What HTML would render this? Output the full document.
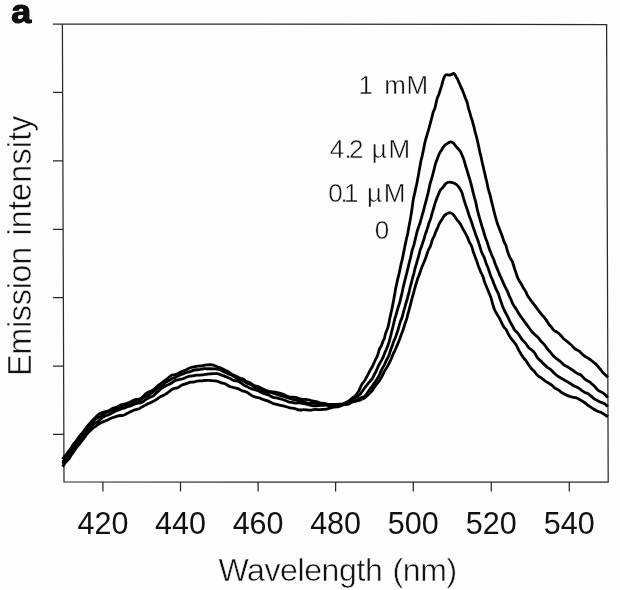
<!DOCTYPE html>
<html><head><meta charset="utf-8">
<style>
html,body{margin:0;padding:0;background:#fdfdfd;}
body{width:620px;height:590px;overflow:hidden;position:relative;font-family:"Liberation Sans",sans-serif;}
svg{position:absolute;left:0;top:0;display:block;filter:grayscale(1)}
text{font-family:"Liberation Sans",sans-serif;fill:#111}
</style></head><body>
<svg width="620" height="590" viewBox="0 0 620 590">
<rect width="620" height="590" fill="#fdfdfd"/>
<!-- frame -->
<g stroke="#2a2a2a" stroke-width="1.25" fill="none">
<path d="M52.8,24 L62.4,24 L606.6,24.5 L608.2,482.1 L64,482 L62.4,24" stroke-linejoin="miter"/>
<!-- y ticks -->
<path d="M53,92.4H62.6 M53,160.8H62.9 M53,229.3H63.1 M53,297.6H63.3 M53,366H63.6 M53,434.3H63.8"/>
<!-- x ticks -->
<path d="M102.9,482V491.6 M180.5,482V491.6 M258.1,482V491.6 M335.6,482V491.6 M413.3,482V491.6 M491.3,482V491.6 M569.3,482V491.6"/>
</g>
<!-- curves -->
<g stroke="#000" stroke-width="2.8" fill="none" stroke-linejoin="round" stroke-linecap="butt">
<path d="M62.60,466.76 C62.82,466.41 63.45,465.32 63.92,464.64 C64.39,463.95 64.90,463.29 65.43,462.65 C65.97,462.02 66.58,461.44 67.14,460.83 C67.71,460.21 68.32,459.64 68.82,458.98 C69.32,458.32 69.72,457.58 70.16,456.87 C70.59,456.16 70.98,455.41 71.43,454.72 C71.89,454.02 72.43,453.38 72.91,452.70 C73.40,452.03 73.88,451.34 74.35,450.66 C74.83,449.97 75.25,449.25 75.76,448.59 C76.26,447.93 76.85,447.33 77.38,446.69 C77.91,446.05 78.44,445.41 78.94,444.74 C79.44,444.08 79.88,443.36 80.37,442.70 C80.87,442.03 81.40,441.39 81.94,440.74 C82.47,440.10 83.05,439.50 83.57,438.85 C84.08,438.19 84.54,437.50 85.01,436.81 C85.48,436.12 85.89,435.39 86.39,434.72 C86.88,434.05 87.42,433.42 87.98,432.80 C88.53,432.18 89.12,431.58 89.72,431.00 C90.32,430.42 90.96,429.89 91.58,429.34 C92.21,428.79 92.82,428.22 93.48,427.72 C94.15,427.21 94.88,426.81 95.57,426.33 C96.25,425.85 96.89,425.32 97.57,424.84 C98.25,424.36 98.91,423.85 99.63,423.43 C100.35,423.01 101.11,422.66 101.87,422.31 C102.62,421.96 103.40,421.66 104.17,421.34 C104.94,421.02 105.72,420.73 106.48,420.40 C107.25,420.07 108.00,419.71 108.76,419.36 C109.51,419.01 110.25,418.61 111.02,418.29 C111.79,417.98 112.58,417.73 113.37,417.46 C114.16,417.20 114.96,416.96 115.75,416.70 C116.55,416.44 117.32,416.09 118.12,415.89 C118.92,415.69 119.76,415.58 120.58,415.51 C121.41,415.44 122.28,415.63 123.08,415.45 C123.87,415.28 124.62,414.85 125.36,414.47 C126.10,414.09 126.77,413.59 127.51,413.19 C128.24,412.80 129.01,412.47 129.76,412.11 C130.51,411.75 131.26,411.38 132.01,411.02 C132.76,410.66 133.49,410.22 134.27,409.95 C135.05,409.68 135.89,409.58 136.69,409.39 C137.50,409.21 138.36,409.16 139.11,408.83 C139.85,408.50 140.46,407.85 141.16,407.41 C141.87,406.98 142.60,406.58 143.34,406.20 C144.08,405.83 144.87,405.53 145.60,405.14 C146.34,404.75 147.00,404.22 147.74,403.84 C148.48,403.46 149.28,403.20 150.04,402.86 C150.80,402.52 151.56,402.18 152.30,401.81 C153.04,401.43 153.76,401.01 154.49,400.61 C155.22,400.21 155.99,399.86 156.68,399.40 C157.37,398.93 157.95,398.32 158.63,397.83 C159.31,397.35 160.01,396.90 160.74,396.51 C161.47,396.12 162.27,395.84 163.02,395.49 C163.77,395.13 164.53,394.77 165.25,394.36 C165.98,393.95 166.68,393.49 167.36,393.02 C168.04,392.54 168.70,392.03 169.35,391.51 C170.01,390.99 170.60,390.39 171.28,389.92 C171.96,389.45 172.67,388.97 173.44,388.68 C174.21,388.39 175.09,388.41 175.89,388.19 C176.69,387.97 177.50,387.75 178.24,387.38 C178.97,387.01 179.60,386.42 180.31,385.99 C181.02,385.55 181.73,385.10 182.49,384.78 C183.26,384.47 184.10,384.34 184.90,384.10 C185.69,383.85 186.48,383.59 187.26,383.31 C188.05,383.02 188.79,382.59 189.59,382.40 C190.39,382.21 191.25,382.25 192.07,382.15 C192.90,382.06 193.74,382.02 194.55,381.84 C195.36,381.66 196.12,381.26 196.93,381.09 C197.74,380.93 198.58,380.88 199.41,380.86 C200.23,380.83 201.07,381.00 201.90,380.94 C202.72,380.88 203.54,380.61 204.36,380.51 C205.19,380.41 206.02,380.36 206.85,380.35 C207.68,380.34 208.52,380.40 209.35,380.46 C210.18,380.51 211.01,380.62 211.84,380.69 C212.67,380.76 213.50,380.83 214.33,380.88 C215.16,380.94 216.02,380.86 216.82,381.03 C217.62,381.20 218.37,381.62 219.15,381.92 C219.92,382.22 220.67,382.60 221.47,382.84 C222.26,383.07 223.14,383.06 223.92,383.31 C224.71,383.57 225.45,383.97 226.18,384.36 C226.91,384.76 227.57,385.29 228.30,385.69 C229.03,386.09 229.77,386.49 230.55,386.77 C231.33,387.06 232.16,387.20 232.96,387.40 C233.77,387.60 234.59,387.78 235.40,387.97 C236.21,388.17 237.04,388.31 237.82,388.59 C238.60,388.86 239.34,389.26 240.08,389.63 C240.83,390.01 241.50,390.56 242.27,390.85 C243.04,391.14 243.91,391.14 244.70,391.38 C245.49,391.62 246.28,391.91 247.00,392.31 C247.73,392.70 248.37,393.27 249.05,393.74 C249.73,394.22 250.39,394.74 251.10,395.18 C251.81,395.61 252.53,396.04 253.30,396.35 C254.06,396.67 254.88,396.87 255.69,397.08 C256.49,397.29 257.32,397.41 258.13,397.62 C258.93,397.84 259.74,398.06 260.51,398.36 C261.29,398.65 262.01,399.11 262.78,399.40 C263.56,399.70 264.37,399.89 265.17,400.14 C265.97,400.38 266.79,400.56 267.56,400.86 C268.34,401.15 269.08,401.55 269.83,401.91 C270.58,402.27 271.31,402.69 272.07,403.01 C272.84,403.34 273.63,403.61 274.42,403.85 C275.22,404.09 276.05,404.24 276.85,404.44 C277.66,404.64 278.46,404.88 279.27,405.06 C280.09,405.24 280.92,405.35 281.73,405.52 C282.55,405.69 283.36,405.86 284.17,406.08 C284.97,406.30 285.75,406.60 286.54,406.85 C287.34,407.10 288.13,407.37 288.94,407.57 C289.75,407.77 290.57,407.91 291.39,408.03 C292.22,408.15 293.07,408.12 293.88,408.27 C294.70,408.42 295.49,408.69 296.28,408.96 C297.06,409.23 297.79,409.72 298.59,409.90 C299.39,410.07 300.24,410.03 301.07,409.99 C301.89,409.96 302.72,409.71 303.55,409.67 C304.37,409.64 305.21,409.71 306.04,409.79 C306.87,409.86 307.69,410.07 308.52,410.12 C309.35,410.17 310.19,410.18 311.01,410.09 C311.83,410.00 312.63,409.68 313.45,409.56 C314.27,409.44 315.11,409.35 315.93,409.37 C316.76,409.39 317.59,409.64 318.42,409.67 C319.25,409.70 320.08,409.58 320.91,409.54 C321.74,409.50 322.58,409.48 323.40,409.42 C324.23,409.36 325.07,409.33 325.89,409.18 C326.70,409.03 327.49,408.74 328.30,408.53 C329.11,408.31 329.92,408.12 330.72,407.91 C331.53,407.70 332.32,407.41 333.13,407.25 C333.95,407.09 334.78,407.03 335.61,406.95 C336.44,406.87 337.29,406.93 338.10,406.76 C338.91,406.59 339.71,406.29 340.45,405.92 C341.19,405.56 341.86,405.04 342.55,404.57 C343.24,404.10 343.87,403.54 344.58,403.12 C345.29,402.69 346.08,402.39 346.82,402.01 C347.56,401.63 348.34,401.31 349.02,400.84 C349.70,400.38 350.28,399.75 350.92,399.22 C351.55,398.68 352.18,398.13 352.84,397.63 C353.50,397.12 354.28,396.75 354.89,396.20 C355.51,395.65 356.03,394.98 356.55,394.33 C357.06,393.68 357.54,392.99 357.99,392.29 C358.44,391.59 358.86,390.87 359.24,390.13 C359.61,389.39 359.90,388.60 360.23,387.83 C360.55,387.07 360.81,386.27 361.19,385.53 C361.56,384.78 361.99,384.06 362.47,383.39 C362.94,382.71 363.57,382.13 364.05,381.45 C364.54,380.78 364.96,380.06 365.38,379.34 C365.80,378.62 366.18,377.87 366.58,377.14 C366.97,376.41 367.38,375.68 367.77,374.95 C368.17,374.21 368.55,373.48 368.93,372.73 C369.31,371.99 369.65,371.22 370.05,370.50 C370.45,369.77 370.91,369.07 371.34,368.35 C371.76,367.64 372.22,366.94 372.59,366.19 C372.96,365.45 373.25,364.66 373.57,363.90 C373.90,363.13 374.20,362.35 374.53,361.59 C374.87,360.83 375.23,360.07 375.61,359.33 C375.99,358.59 376.47,357.90 376.82,357.15 C377.18,356.40 377.47,355.61 377.74,354.83 C378.01,354.04 378.21,353.22 378.44,352.42 C378.67,351.62 378.84,350.80 379.12,350.02 C379.41,349.24 379.77,348.49 380.15,347.75 C380.53,347.01 381.05,346.35 381.40,345.60 C381.75,344.85 381.97,344.03 382.26,343.25 C382.56,342.47 382.83,341.68 383.16,340.92 C383.49,340.16 383.95,339.44 384.24,338.67 C384.53,337.89 384.71,337.07 384.92,336.26 C385.13,335.45 385.27,334.63 385.50,333.83 C385.73,333.03 386.03,332.25 386.32,331.47 C386.61,330.69 386.97,329.94 387.25,329.16 C387.54,328.37 387.80,327.58 388.04,326.78 C388.27,325.98 388.49,325.18 388.67,324.36 C388.86,323.55 388.99,322.73 389.14,321.91 C389.29,321.09 389.43,320.27 389.59,319.45 C389.74,318.63 389.91,317.81 390.08,317.00 C390.26,316.18 390.45,315.37 390.64,314.56 C390.82,313.75 391.00,312.93 391.18,312.12 C391.37,311.31 391.57,310.50 391.75,309.69 C391.94,308.88 392.13,308.06 392.30,307.25 C392.46,306.43 392.59,305.61 392.74,304.79 C392.89,303.97 393.06,303.15 393.22,302.33 C393.38,301.52 393.55,300.70 393.70,299.88 C393.85,299.06 393.98,298.24 394.12,297.42 C394.26,296.60 394.40,295.77 394.54,294.95 C394.69,294.13 394.84,293.31 394.99,292.49 C395.14,291.67 395.28,290.85 395.42,290.03 C395.57,289.21 395.69,288.39 395.86,287.57 C396.03,286.75 396.25,285.95 396.43,285.13 C396.61,284.32 396.76,283.50 396.94,282.69 C397.11,281.87 397.29,281.06 397.47,280.24 C397.65,279.43 397.83,278.62 398.03,277.81 C398.22,277.00 398.44,276.19 398.64,275.38 C398.84,274.58 399.06,273.77 399.24,272.96 C399.42,272.14 399.55,271.32 399.71,270.50 C399.88,269.69 400.05,268.87 400.22,268.06 C400.40,267.24 400.58,266.43 400.76,265.61 C400.94,264.80 401.11,263.98 401.31,263.17 C401.50,262.36 401.71,261.56 401.92,260.75 C402.12,259.94 402.33,259.13 402.51,258.32 C402.69,257.51 402.84,256.69 402.99,255.87 C403.15,255.05 403.29,254.23 403.45,253.41 C403.61,252.59 403.79,251.78 403.96,250.96 C404.12,250.15 404.29,249.33 404.45,248.51 C404.60,247.69 404.74,246.87 404.90,246.05 C405.06,245.24 405.23,244.42 405.41,243.61 C405.59,242.79 405.77,241.98 405.96,241.17 C406.14,240.35 406.31,239.54 406.50,238.73 C406.69,237.91 406.91,237.11 407.10,236.30 C407.29,235.49 407.48,234.67 407.64,233.86 C407.81,233.04 407.94,232.22 408.09,231.40 C408.24,230.58 408.39,229.76 408.53,228.94 C408.68,228.12 408.81,227.30 408.96,226.48 C409.11,225.66 409.26,224.84 409.42,224.02 C409.58,223.20 409.77,222.39 409.93,221.57 C410.09,220.75 410.25,219.93 410.39,219.11 C410.53,218.29 410.65,217.47 410.78,216.64 C410.91,215.82 411.03,215.00 411.16,214.17 C411.28,213.35 411.42,212.53 411.55,211.70 C411.68,210.88 411.81,210.06 411.93,209.23 C412.06,208.41 412.19,207.59 412.30,206.76 C412.42,205.94 412.53,205.11 412.64,204.28 C412.75,203.46 412.86,202.63 412.97,201.81 C413.09,200.98 413.21,200.16 413.36,199.34 C413.50,198.51 413.66,197.70 413.83,196.88 C414.01,196.07 414.22,195.26 414.41,194.45 C414.60,193.64 414.81,192.83 414.98,192.02 C415.16,191.20 415.30,190.38 415.47,189.56 C415.65,188.75 415.84,187.94 416.03,187.13 C416.22,186.32 416.45,185.51 416.62,184.70 C416.80,183.89 416.93,183.06 417.08,182.24 C417.22,181.42 417.34,180.60 417.50,179.78 C417.65,178.96 417.85,178.15 418.02,177.33 C418.18,176.51 418.33,175.69 418.47,174.87 C418.62,174.05 418.75,173.23 418.89,172.41 C419.02,171.59 419.15,170.76 419.29,169.94 C419.44,169.12 419.60,168.30 419.75,167.48 C419.91,166.67 420.09,165.85 420.24,165.03 C420.39,164.21 420.51,163.39 420.65,162.57 C420.80,161.75 420.91,160.92 421.10,160.11 C421.29,159.30 421.58,158.51 421.78,157.70 C421.99,156.90 422.17,156.08 422.34,155.27 C422.51,154.45 422.63,153.63 422.80,152.81 C422.97,151.99 423.16,151.18 423.34,150.37 C423.52,149.55 423.70,148.74 423.87,147.93 C424.03,147.11 424.17,146.29 424.32,145.47 C424.48,144.65 424.63,143.83 424.81,143.01 C424.99,142.20 425.20,141.40 425.42,140.59 C425.63,139.79 425.87,138.99 426.09,138.18 C426.32,137.38 426.55,136.58 426.78,135.78 C427.01,134.98 427.23,134.18 427.47,133.38 C427.71,132.58 427.96,131.79 428.20,130.99 C428.44,130.19 428.67,129.39 428.90,128.59 C429.12,127.78 429.35,126.98 429.56,126.18 C429.78,125.37 429.99,124.56 430.20,123.76 C430.41,122.95 430.61,122.14 430.82,121.34 C431.03,120.53 431.25,119.73 431.47,118.92 C431.68,118.12 431.92,117.32 432.12,116.51 C432.32,115.70 432.46,114.87 432.66,114.07 C432.87,113.26 433.05,112.44 433.34,111.66 C433.63,110.89 434.10,110.18 434.41,109.40 C434.71,108.63 434.97,107.83 435.19,107.03 C435.42,106.23 435.58,105.41 435.76,104.60 C435.94,103.79 436.10,102.97 436.28,102.15 C436.46,101.34 436.63,100.52 436.86,99.72 C437.08,98.92 437.33,98.12 437.62,97.34 C437.91,96.56 438.31,95.82 438.60,95.04 C438.90,94.27 439.15,93.47 439.41,92.68 C439.67,91.89 439.91,91.09 440.17,90.30 C440.43,89.50 440.70,88.72 440.95,87.92 C441.21,87.13 441.46,86.34 441.70,85.54 C441.93,84.74 442.14,83.93 442.35,83.12 C442.56,82.32 442.74,81.50 442.97,80.70 C443.21,79.90 443.47,79.11 443.77,78.33 C444.07,77.56 444.28,76.65 444.77,76.04 C445.25,75.44 445.94,74.84 446.66,74.70 C447.39,74.55 448.31,75.21 449.11,75.18 C449.91,75.15 450.69,74.81 451.45,74.52 C452.20,74.23 453.00,73.34 453.63,73.45 C454.27,73.57 454.80,74.54 455.27,75.19 C455.73,75.85 456.02,76.68 456.43,77.40 C456.85,78.12 457.37,78.78 457.75,79.52 C458.12,80.26 458.35,81.07 458.68,81.84 C459.02,82.60 459.40,83.34 459.74,84.10 C460.07,84.87 460.36,85.65 460.69,86.41 C461.02,87.18 461.38,87.93 461.72,88.69 C462.06,89.45 462.40,90.21 462.72,90.98 C463.04,91.75 463.34,92.53 463.64,93.31 C463.94,94.09 464.23,94.86 464.52,95.65 C464.81,96.43 465.07,97.22 465.36,98.00 C465.66,98.78 466.00,99.54 466.31,100.31 C466.62,101.09 466.96,101.85 467.20,102.64 C467.45,103.44 467.60,104.26 467.78,105.08 C467.96,105.89 468.10,106.71 468.29,107.52 C468.48,108.33 468.69,109.14 468.93,109.94 C469.18,110.73 469.51,111.50 469.75,112.30 C469.99,113.10 470.16,113.91 470.37,114.72 C470.58,115.53 470.76,116.35 471.01,117.14 C471.27,117.93 471.64,118.68 471.91,119.47 C472.17,120.26 472.39,121.06 472.61,121.87 C472.82,122.67 472.98,123.49 473.20,124.30 C473.42,125.10 473.69,125.89 473.91,126.69 C474.13,127.50 474.31,128.31 474.49,129.12 C474.68,129.94 474.82,130.76 475.02,131.57 C475.21,132.38 475.45,133.18 475.68,133.98 C475.90,134.78 476.17,135.57 476.39,136.38 C476.61,137.18 476.79,137.99 476.98,138.81 C477.17,139.62 477.35,140.43 477.53,141.24 C477.72,142.06 477.90,142.87 478.08,143.68 C478.27,144.49 478.47,145.30 478.64,146.12 C478.81,146.93 478.96,147.75 479.12,148.57 C479.28,149.39 479.43,150.21 479.60,151.02 C479.78,151.84 479.98,152.65 480.18,153.46 C480.38,154.26 480.63,155.06 480.82,155.87 C481.02,156.68 481.19,157.50 481.36,158.31 C481.53,159.13 481.68,159.95 481.85,160.77 C482.01,161.58 482.18,162.40 482.37,163.21 C482.56,164.02 482.78,164.83 482.97,165.64 C483.16,166.45 483.32,167.27 483.50,168.08 C483.68,168.89 483.86,169.71 484.05,170.52 C484.25,171.33 484.50,172.13 484.69,172.94 C484.88,173.75 485.03,174.57 485.21,175.38 C485.39,176.20 485.57,177.01 485.77,177.82 C485.96,178.63 486.20,179.43 486.39,180.24 C486.59,181.05 486.77,181.86 486.95,182.68 C487.12,183.49 487.27,184.31 487.44,185.13 C487.61,185.94 487.78,186.76 487.97,187.57 C488.16,188.38 488.36,189.19 488.57,190.00 C488.77,190.80 488.98,191.61 489.22,192.41 C489.46,193.21 489.79,193.98 490.02,194.78 C490.25,195.58 490.42,196.40 490.61,197.21 C490.79,198.02 490.95,198.84 491.13,199.65 C491.32,200.47 491.51,201.28 491.71,202.08 C491.91,202.89 492.14,203.69 492.35,204.50 C492.56,205.31 492.77,206.12 492.96,206.93 C493.15,207.74 493.31,208.55 493.51,209.36 C493.70,210.17 493.92,210.98 494.13,211.79 C494.34,212.59 494.55,213.40 494.76,214.21 C494.96,215.01 495.16,215.82 495.38,216.63 C495.60,217.43 495.84,218.23 496.07,219.03 C496.29,219.83 496.50,220.64 496.74,221.44 C496.97,222.24 497.18,223.05 497.46,223.83 C497.74,224.62 498.10,225.37 498.41,226.15 C498.71,226.92 498.98,227.71 499.27,228.49 C499.55,229.27 499.82,230.06 500.13,230.84 C500.43,231.62 500.76,232.38 501.07,233.15 C501.38,233.93 501.70,234.70 501.99,235.48 C502.27,236.26 502.52,237.06 502.78,237.85 C503.03,238.65 503.25,239.45 503.52,240.24 C503.79,241.03 504.07,241.82 504.42,242.57 C504.77,243.32 505.28,244.00 505.62,244.76 C505.95,245.52 506.18,246.33 506.42,247.13 C506.66,247.92 506.83,248.74 507.05,249.55 C507.26,250.35 507.48,251.16 507.73,251.95 C507.98,252.75 508.23,253.54 508.53,254.32 C508.83,255.09 509.18,255.85 509.53,256.61 C509.88,257.37 510.23,258.13 510.64,258.85 C511.05,259.57 511.61,260.22 511.99,260.95 C512.36,261.69 512.64,262.48 512.92,263.27 C513.19,264.05 513.40,264.86 513.64,265.66 C513.89,266.46 514.12,267.26 514.37,268.05 C514.62,268.85 514.88,269.64 515.14,270.43 C515.41,271.22 515.70,272.00 515.97,272.79 C516.24,273.58 516.49,274.37 516.76,275.16 C517.03,275.95 517.25,276.76 517.57,277.53 C517.88,278.30 518.25,279.05 518.65,279.78 C519.04,280.51 519.50,281.21 519.94,281.92 C520.38,282.63 520.86,283.31 521.28,284.03 C521.70,284.75 522.07,285.50 522.47,286.23 C522.87,286.96 523.27,287.69 523.70,288.40 C524.13,289.11 524.65,289.78 525.07,290.49 C525.49,291.21 525.89,291.95 526.24,292.70 C526.60,293.45 526.84,294.26 527.23,295.00 C527.61,295.73 528.08,296.42 528.55,297.11 C529.01,297.80 529.54,298.45 530.02,299.13 C530.49,299.81 530.92,300.53 531.42,301.20 C531.91,301.87 532.46,302.50 532.98,303.15 C533.51,303.80 534.05,304.43 534.56,305.09 C535.07,305.75 535.55,306.43 536.03,307.11 C536.51,307.79 536.95,308.50 537.44,309.17 C537.93,309.85 538.45,310.50 538.97,311.15 C539.49,311.80 540.02,312.44 540.54,313.09 C541.07,313.74 541.56,314.41 542.10,315.04 C542.65,315.67 543.25,316.25 543.80,316.88 C544.35,317.51 544.88,318.15 545.38,318.82 C545.88,319.48 546.36,320.17 546.81,320.87 C547.26,321.57 547.64,322.31 548.10,323.01 C548.55,323.71 549.02,324.40 549.54,325.05 C550.06,325.70 550.68,326.27 551.21,326.91 C551.73,327.56 552.16,328.28 552.69,328.92 C553.22,329.56 553.72,330.26 554.38,330.75 C555.03,331.24 555.91,331.42 556.62,331.85 C557.33,332.27 558.01,332.76 558.64,333.30 C559.27,333.84 559.83,334.47 560.40,335.08 C560.96,335.69 561.50,336.33 562.05,336.96 C562.60,337.58 563.11,338.25 563.70,338.83 C564.30,339.41 564.95,339.93 565.61,340.44 C566.27,340.95 566.98,341.39 567.64,341.90 C568.29,342.41 568.93,342.95 569.56,343.50 C570.19,344.04 570.81,344.60 571.40,345.19 C571.98,345.79 572.47,346.47 573.05,347.07 C573.63,347.66 574.21,348.28 574.89,348.75 C575.56,349.23 576.37,349.51 577.09,349.93 C577.81,350.34 578.55,350.74 579.21,351.23 C579.88,351.73 580.47,352.33 581.07,352.91 C581.68,353.48 582.23,354.11 582.84,354.67 C583.46,355.23 584.08,355.80 584.77,356.26 C585.46,356.72 586.24,357.03 586.97,357.44 C587.69,357.86 588.42,358.26 589.11,358.73 C589.80,359.19 590.43,359.74 591.08,360.26 C591.74,360.77 592.39,361.30 593.04,361.82 C593.69,362.33 594.38,362.81 595.00,363.36 C595.63,363.91 596.22,364.50 596.79,365.10 C597.37,365.71 597.89,366.36 598.44,366.99 C598.98,367.62 599.53,368.25 600.05,368.90 C600.57,369.55 601.04,370.24 601.55,370.90 C602.07,371.55 602.57,372.22 603.14,372.82 C603.71,373.42 604.39,373.93 605.00,374.50 C605.60,375.07 606.33,375.73 606.80,376.23 C607.26,376.72 607.63,377.26 607.80,377.47"/>
<path d="M62.60,463.97 C62.85,463.64 63.58,462.62 64.11,461.98 C64.65,461.35 65.29,460.80 65.82,460.16 C66.34,459.51 66.82,458.82 67.27,458.12 C67.72,457.42 68.12,456.69 68.52,455.96 C68.91,455.22 69.22,454.45 69.62,453.71 C70.02,452.98 70.39,452.22 70.90,451.57 C71.41,450.92 72.09,450.41 72.67,449.81 C73.26,449.22 73.83,448.62 74.40,448.00 C74.96,447.39 75.51,446.76 76.06,446.14 C76.61,445.51 77.17,444.89 77.71,444.26 C78.25,443.62 78.79,442.99 79.30,442.33 C79.81,441.67 80.29,440.99 80.77,440.31 C81.25,439.63 81.70,438.92 82.19,438.25 C82.68,437.57 83.20,436.92 83.70,436.26 C84.21,435.60 84.75,434.96 85.23,434.28 C85.71,433.60 86.10,432.86 86.58,432.18 C87.06,431.50 87.56,430.83 88.09,430.19 C88.62,429.54 89.18,428.93 89.73,428.31 C90.28,427.68 90.84,427.06 91.40,426.44 C91.95,425.82 92.45,425.13 93.06,424.57 C93.67,424.01 94.35,423.52 95.05,423.09 C95.76,422.65 96.59,422.41 97.28,421.96 C97.97,421.50 98.55,420.88 99.19,420.35 C99.83,419.82 100.47,419.29 101.12,418.77 C101.77,418.24 102.41,417.69 103.09,417.22 C103.77,416.74 104.45,416.24 105.20,415.90 C105.95,415.57 106.82,415.48 107.59,415.19 C108.37,414.90 109.13,414.53 109.88,414.17 C110.63,413.81 111.37,413.43 112.10,413.03 C112.83,412.62 113.51,412.14 114.25,411.75 C114.99,411.37 115.75,411.04 116.52,410.72 C117.29,410.40 118.08,410.13 118.86,409.83 C119.63,409.52 120.39,409.18 121.18,408.91 C121.97,408.63 122.78,408.45 123.57,408.19 C124.36,407.93 125.14,407.62 125.92,407.33 C126.71,407.05 127.48,406.73 128.27,406.49 C129.07,406.25 129.91,406.16 130.70,405.90 C131.49,405.64 132.24,405.26 133.00,404.93 C133.76,404.59 134.50,404.18 135.28,403.91 C136.07,403.65 136.90,403.51 137.71,403.34 C138.53,403.18 139.38,403.13 140.18,402.91 C140.98,402.70 141.79,402.46 142.51,402.06 C143.23,401.67 143.82,401.03 144.49,400.53 C145.15,400.04 145.81,399.52 146.52,399.08 C147.22,398.65 147.97,398.27 148.72,397.90 C149.46,397.53 150.23,397.20 150.99,396.86 C151.74,396.51 152.59,396.31 153.26,395.85 C153.93,395.38 154.43,394.66 155.02,394.08 C155.61,393.49 156.18,392.88 156.81,392.34 C157.44,391.79 158.16,391.36 158.80,390.83 C159.44,390.29 160.00,389.67 160.64,389.14 C161.28,388.60 161.93,388.08 162.63,387.63 C163.32,387.17 164.08,386.81 164.81,386.41 C165.54,386.00 166.24,385.55 166.99,385.19 C167.74,384.83 168.55,384.58 169.30,384.22 C170.05,383.87 170.79,383.48 171.49,383.04 C172.20,382.60 172.81,382.01 173.52,381.57 C174.22,381.14 174.95,380.71 175.72,380.41 C176.49,380.11 177.33,379.96 178.14,379.77 C178.94,379.57 179.76,379.41 180.58,379.23 C181.39,379.06 182.23,378.98 183.02,378.73 C183.81,378.48 184.56,378.08 185.32,377.75 C186.08,377.41 186.80,376.97 187.58,376.70 C188.37,376.43 189.19,376.26 190.01,376.13 C190.83,375.99 191.68,376.02 192.50,375.90 C193.32,375.77 194.12,375.49 194.94,375.35 C195.76,375.21 196.59,375.13 197.42,375.08 C198.25,375.03 199.09,375.08 199.92,375.05 C200.75,375.02 201.59,374.98 202.41,374.88 C203.24,374.79 204.06,374.62 204.88,374.49 C205.71,374.37 206.53,374.22 207.35,374.12 C208.18,374.01 209.01,373.92 209.84,373.85 C210.67,373.78 211.50,373.75 212.33,373.71 C213.17,373.67 214.00,373.62 214.83,373.62 C215.67,373.62 216.51,373.57 217.33,373.69 C218.15,373.82 218.95,374.09 219.73,374.35 C220.52,374.62 221.27,374.99 222.05,375.29 C222.83,375.58 223.64,375.81 224.41,376.11 C225.19,376.41 225.96,376.74 226.72,377.07 C227.48,377.40 228.24,377.75 229.00,378.10 C229.75,378.45 230.51,378.81 231.25,379.18 C231.99,379.56 232.68,380.08 233.46,380.35 C234.23,380.63 235.09,380.67 235.89,380.85 C236.70,381.03 237.54,381.14 238.31,381.44 C239.08,381.74 239.79,382.21 240.49,382.65 C241.20,383.09 241.86,383.61 242.54,384.09 C243.22,384.56 243.87,385.11 244.59,385.52 C245.31,385.93 246.11,386.19 246.87,386.55 C247.62,386.90 248.36,387.29 249.10,387.67 C249.84,388.04 250.56,388.48 251.33,388.79 C252.10,389.09 252.92,389.29 253.72,389.51 C254.53,389.72 255.36,389.84 256.16,390.08 C256.95,390.33 257.73,390.64 258.49,390.97 C259.25,391.30 259.98,391.71 260.73,392.08 C261.48,392.45 262.21,392.85 262.98,393.17 C263.75,393.49 264.54,393.75 265.33,394.01 C266.13,394.26 266.95,394.41 267.74,394.69 C268.52,394.97 269.30,395.28 270.04,395.66 C270.77,396.04 271.42,396.63 272.16,396.97 C272.91,397.31 273.72,397.55 274.53,397.71 C275.33,397.87 276.20,397.77 277.01,397.92 C277.83,398.07 278.61,398.39 279.41,398.61 C280.22,398.83 281.03,399.01 281.83,399.24 C282.63,399.48 283.43,399.72 284.21,400.01 C284.99,400.29 285.75,400.65 286.53,400.95 C287.30,401.26 288.06,401.61 288.86,401.85 C289.65,402.09 290.48,402.22 291.30,402.38 C292.12,402.54 292.94,402.71 293.76,402.82 C294.58,402.94 295.41,403.06 296.24,403.07 C297.07,403.08 297.91,402.87 298.73,402.87 C299.56,402.87 300.40,402.91 301.21,403.06 C302.02,403.20 302.80,403.58 303.61,403.75 C304.43,403.91 305.27,403.91 306.09,404.04 C306.91,404.17 307.74,404.31 308.54,404.53 C309.34,404.76 310.08,405.18 310.88,405.40 C311.68,405.62 312.51,405.76 313.34,405.83 C314.16,405.90 315.00,405.87 315.84,405.84 C316.67,405.81 317.50,405.73 318.33,405.65 C319.16,405.57 319.98,405.43 320.81,405.37 C321.64,405.31 322.48,405.31 323.31,405.28 C324.14,405.25 324.98,405.15 325.81,405.20 C326.63,405.25 327.46,405.40 328.27,405.57 C329.09,405.73 329.88,406.12 330.70,406.18 C331.51,406.23 332.34,406.04 333.16,405.93 C333.98,405.81 334.79,405.49 335.61,405.46 C336.44,405.43 337.27,405.69 338.09,405.74 C338.92,405.78 339.77,405.86 340.59,405.73 C341.40,405.61 342.21,405.32 342.96,405.00 C343.72,404.67 344.40,404.15 345.14,403.76 C345.88,403.38 346.61,402.96 347.39,402.70 C348.18,402.44 349.08,402.50 349.84,402.21 C350.61,401.92 351.31,401.44 351.98,400.96 C352.65,400.47 353.22,399.84 353.86,399.31 C354.49,398.77 355.14,398.25 355.81,397.74 C356.47,397.24 357.20,396.82 357.85,396.30 C358.50,395.79 359.15,395.25 359.72,394.65 C360.29,394.05 360.77,393.36 361.27,392.69 C361.78,392.03 362.26,391.35 362.75,390.67 C363.23,390.00 363.71,389.31 364.19,388.63 C364.67,387.95 365.12,387.24 365.61,386.58 C366.11,385.91 366.65,385.27 367.18,384.63 C367.71,383.99 368.26,383.36 368.80,382.72 C369.34,382.09 369.90,381.47 370.44,380.84 C370.98,380.20 371.57,379.60 372.04,378.92 C372.51,378.24 372.89,377.49 373.27,376.75 C373.65,376.01 373.96,375.23 374.34,374.49 C374.71,373.74 375.13,373.02 375.51,372.28 C375.90,371.54 376.28,370.80 376.63,370.05 C376.98,369.29 377.28,368.51 377.61,367.75 C377.94,366.98 378.25,366.20 378.61,365.46 C378.98,364.71 379.39,363.98 379.80,363.26 C380.21,362.53 380.66,361.83 381.08,361.11 C381.49,360.38 381.89,359.65 382.27,358.91 C382.65,358.17 383.01,357.42 383.34,356.65 C383.67,355.89 383.93,355.09 384.23,354.32 C384.53,353.54 384.82,352.76 385.14,351.99 C385.47,351.22 385.84,350.47 386.17,349.71 C386.50,348.95 386.81,348.17 387.13,347.40 C387.45,346.63 387.80,345.87 388.09,345.09 C388.38,344.31 388.65,343.52 388.88,342.72 C389.12,341.93 389.30,341.11 389.51,340.30 C389.71,339.50 389.91,338.69 390.13,337.88 C390.34,337.08 390.59,336.28 390.79,335.47 C391.00,334.66 391.15,333.84 391.34,333.03 C391.53,332.22 391.72,331.41 391.93,330.60 C392.14,329.80 392.40,329.00 392.60,328.20 C392.81,327.39 392.97,326.57 393.16,325.76 C393.34,324.95 393.52,324.13 393.72,323.32 C393.91,322.51 394.10,321.70 394.30,320.89 C394.50,320.08 394.67,319.26 394.90,318.46 C395.13,317.66 395.43,316.89 395.68,316.09 C395.93,315.30 396.17,314.50 396.40,313.70 C396.63,312.90 396.83,312.09 397.05,311.28 C397.26,310.48 397.49,309.68 397.71,308.87 C397.93,308.07 398.12,307.26 398.38,306.46 C398.63,305.67 398.97,304.91 399.24,304.12 C399.50,303.33 399.76,302.54 399.98,301.73 C400.19,300.93 400.34,300.10 400.52,299.29 C400.71,298.48 400.88,297.66 401.07,296.85 C401.27,296.04 401.49,295.24 401.69,294.43 C401.89,293.62 402.10,292.81 402.27,292.00 C402.44,291.18 402.57,290.36 402.72,289.54 C402.88,288.72 403.02,287.90 403.21,287.09 C403.40,286.28 403.65,285.48 403.85,284.67 C404.05,283.86 404.22,283.05 404.42,282.24 C404.62,281.43 404.84,280.63 405.05,279.82 C405.25,279.01 405.45,278.20 405.65,277.39 C405.85,276.58 406.06,275.78 406.26,274.97 C406.46,274.16 406.67,273.35 406.87,272.54 C407.07,271.73 407.25,270.92 407.45,270.11 C407.64,269.30 407.83,268.49 408.02,267.68 C408.22,266.87 408.42,266.06 408.62,265.25 C408.82,264.44 409.01,263.63 409.21,262.82 C409.41,262.01 409.63,261.21 409.84,260.40 C410.06,259.60 410.30,258.80 410.50,257.99 C410.69,257.18 410.84,256.36 411.01,255.54 C411.19,254.73 411.35,253.91 411.53,253.10 C411.71,252.28 411.87,251.46 412.08,250.66 C412.30,249.86 412.56,249.06 412.82,248.27 C413.08,247.48 413.40,246.71 413.64,245.91 C413.88,245.11 414.07,244.30 414.27,243.49 C414.47,242.68 414.64,241.87 414.83,241.06 C415.02,240.25 415.23,239.44 415.43,238.63 C415.62,237.82 415.81,237.01 415.99,236.19 C416.18,235.38 416.36,234.57 416.55,233.76 C416.75,232.95 416.93,232.13 417.16,231.33 C417.40,230.53 417.70,229.76 417.97,228.97 C418.24,228.18 418.49,227.38 418.77,226.60 C419.05,225.81 419.37,225.04 419.63,224.25 C419.90,223.46 420.13,222.66 420.36,221.86 C420.59,221.06 420.78,220.25 421.00,219.45 C421.23,218.64 421.48,217.85 421.70,217.05 C421.92,216.24 422.10,215.43 422.33,214.63 C422.56,213.83 422.83,213.04 423.07,212.24 C423.30,211.44 423.52,210.63 423.72,209.83 C423.93,209.02 424.08,208.20 424.28,207.39 C424.48,206.58 424.69,205.78 424.92,204.97 C425.14,204.17 425.40,203.38 425.62,202.57 C425.85,201.77 426.06,200.97 426.26,200.16 C426.47,199.35 426.64,198.53 426.85,197.73 C427.06,196.92 427.29,196.12 427.50,195.31 C427.72,194.51 427.93,193.70 428.13,192.89 C428.32,192.08 428.50,191.27 428.68,190.45 C428.85,189.64 429.01,188.82 429.18,188.01 C429.34,187.19 429.50,186.37 429.68,185.56 C429.86,184.74 430.06,183.93 430.27,183.13 C430.49,182.33 430.75,181.53 431.00,180.74 C431.25,179.94 431.53,179.16 431.77,178.36 C432.00,177.56 432.21,176.75 432.42,175.94 C432.63,175.14 432.82,174.33 433.02,173.52 C433.23,172.71 433.44,171.90 433.65,171.10 C433.86,170.29 434.07,169.49 434.28,168.68 C434.48,167.87 434.67,167.06 434.87,166.25 C435.07,165.44 435.26,164.63 435.49,163.83 C435.72,163.03 435.97,162.23 436.26,161.45 C436.54,160.67 436.91,159.91 437.21,159.14 C437.51,158.36 437.77,157.57 438.06,156.79 C438.35,156.01 438.61,155.21 438.95,154.45 C439.30,153.70 439.69,152.96 440.11,152.24 C440.54,151.53 441.04,150.86 441.48,150.15 C441.93,149.44 442.31,148.70 442.76,148.00 C443.21,147.30 443.62,146.55 444.17,145.94 C444.72,145.33 445.41,144.83 446.07,144.33 C446.74,143.84 447.44,143.37 448.17,142.97 C448.90,142.57 449.66,142.00 450.43,141.94 C451.19,141.88 452.08,142.21 452.75,142.63 C453.42,143.05 453.91,143.83 454.45,144.45 C455.00,145.08 455.50,145.75 456.03,146.40 C456.55,147.04 457.06,147.71 457.62,148.32 C458.18,148.94 458.85,149.46 459.38,150.10 C459.91,150.74 460.38,151.43 460.78,152.15 C461.18,152.88 461.46,153.68 461.79,154.44 C462.11,155.21 462.44,155.98 462.75,156.75 C463.06,157.52 463.38,158.29 463.66,159.08 C463.93,159.86 464.18,160.66 464.41,161.46 C464.65,162.26 464.84,163.07 465.07,163.87 C465.29,164.68 465.51,165.48 465.76,166.28 C466.00,167.07 466.28,167.86 466.54,168.65 C466.79,169.45 467.03,170.25 467.27,171.04 C467.50,171.84 467.74,172.64 467.97,173.44 C468.21,174.24 468.44,175.04 468.67,175.84 C468.91,176.64 469.15,177.44 469.40,178.24 C469.64,179.03 469.91,179.82 470.15,180.62 C470.39,181.42 470.61,182.22 470.83,183.02 C471.04,183.83 471.24,184.64 471.44,185.45 C471.64,186.26 471.84,187.07 472.04,187.88 C472.23,188.69 472.42,189.50 472.61,190.31 C472.80,191.12 472.98,191.93 473.19,192.74 C473.39,193.55 473.62,194.35 473.83,195.16 C474.05,195.96 474.23,196.77 474.46,197.58 C474.68,198.38 474.94,199.17 475.16,199.98 C475.38,200.78 475.58,201.59 475.77,202.40 C475.96,203.21 476.13,204.03 476.31,204.84 C476.48,205.66 476.63,206.48 476.80,207.29 C476.98,208.11 477.15,208.92 477.34,209.73 C477.53,210.55 477.74,211.35 477.94,212.16 C478.15,212.97 478.37,213.77 478.58,214.58 C478.80,215.38 479.00,216.19 479.23,216.99 C479.45,217.79 479.71,218.59 479.95,219.39 C480.18,220.19 480.41,220.99 480.64,221.79 C480.86,222.59 481.07,223.40 481.31,224.20 C481.54,225.00 481.79,225.79 482.05,226.59 C482.30,227.38 482.59,228.16 482.84,228.96 C483.09,229.75 483.31,230.55 483.54,231.36 C483.77,232.16 483.98,232.96 484.22,233.76 C484.45,234.56 484.69,235.36 484.95,236.15 C485.21,236.95 485.46,237.74 485.75,238.52 C486.04,239.30 486.40,240.06 486.69,240.84 C486.98,241.62 487.24,242.41 487.49,243.21 C487.74,244.00 487.94,244.81 488.19,245.61 C488.44,246.40 488.72,247.18 489.00,247.97 C489.27,248.76 489.54,249.55 489.84,250.32 C490.13,251.10 490.46,251.87 490.77,252.65 C491.07,253.42 491.37,254.20 491.69,254.97 C492.01,255.74 492.35,256.50 492.70,257.26 C493.04,258.02 493.43,258.75 493.74,259.53 C494.05,260.30 494.28,261.10 494.54,261.89 C494.81,262.68 495.04,263.48 495.34,264.26 C495.63,265.04 495.98,265.80 496.30,266.57 C496.63,267.34 496.96,268.10 497.28,268.87 C497.59,269.64 497.90,270.42 498.21,271.19 C498.52,271.97 498.82,272.74 499.13,273.52 C499.44,274.29 499.73,275.07 500.08,275.83 C500.42,276.59 500.82,277.32 501.18,278.07 C501.53,278.83 501.89,279.58 502.22,280.34 C502.56,281.11 502.86,281.88 503.18,282.65 C503.50,283.42 503.81,284.20 504.16,284.95 C504.50,285.71 504.87,286.46 505.25,287.20 C505.64,287.94 506.07,288.65 506.46,289.39 C506.85,290.13 507.25,290.86 507.59,291.62 C507.93,292.38 508.18,293.18 508.47,293.96 C508.77,294.73 509.03,295.53 509.37,296.29 C509.71,297.05 510.17,297.75 510.53,298.50 C510.90,299.25 511.23,300.01 511.55,300.78 C511.86,301.55 512.08,302.37 512.43,303.12 C512.77,303.88 513.16,304.62 513.60,305.32 C514.04,306.03 514.59,306.67 515.06,307.35 C515.53,308.04 516.00,308.73 516.43,309.45 C516.86,310.16 517.25,310.90 517.66,311.62 C518.08,312.34 518.47,313.08 518.91,313.79 C519.35,314.49 519.82,315.19 520.31,315.86 C520.80,316.53 521.36,317.15 521.86,317.82 C522.36,318.49 522.82,319.18 523.29,319.87 C523.76,320.55 524.20,321.27 524.68,321.95 C525.16,322.63 525.67,323.29 526.18,323.95 C526.69,324.61 527.23,325.24 527.73,325.90 C528.24,326.57 528.72,327.25 529.19,327.93 C529.67,328.62 530.08,329.35 530.57,330.02 C531.06,330.69 531.56,331.36 532.12,331.97 C532.68,332.58 533.34,333.11 533.95,333.68 C534.55,334.25 535.14,334.84 535.76,335.40 C536.37,335.97 537.05,336.47 537.63,337.06 C538.22,337.65 538.74,338.30 539.26,338.95 C539.79,339.59 540.26,340.28 540.80,340.92 C541.34,341.56 541.91,342.16 542.48,342.77 C543.05,343.37 543.68,343.93 544.23,344.55 C544.78,345.18 545.28,345.84 545.78,346.51 C546.27,347.18 546.69,347.91 547.20,348.57 C547.70,349.24 548.24,349.87 548.79,350.49 C549.34,351.12 549.94,351.70 550.48,352.34 C551.02,352.97 551.48,353.67 552.02,354.30 C552.56,354.94 553.13,355.55 553.72,356.14 C554.31,356.72 554.92,357.29 555.56,357.82 C556.21,358.35 556.90,358.82 557.56,359.32 C558.22,359.83 558.88,360.35 559.53,360.87 C560.17,361.39 560.85,361.89 561.46,362.45 C562.07,363.02 562.57,363.71 563.19,364.26 C563.81,364.81 564.46,365.34 565.17,365.75 C565.89,366.17 566.74,366.35 567.46,366.75 C568.19,367.15 568.84,367.69 569.54,368.14 C570.24,368.60 570.95,369.03 571.64,369.49 C572.34,369.95 573.03,370.42 573.70,370.91 C574.37,371.41 574.98,371.99 575.66,372.46 C576.35,372.93 577.05,373.39 577.80,373.74 C578.55,374.10 579.44,374.18 580.15,374.58 C580.86,374.99 581.47,375.60 582.07,376.16 C582.67,376.73 583.18,377.41 583.77,377.99 C584.37,378.57 584.97,379.17 585.64,379.65 C586.31,380.13 587.10,380.45 587.81,380.88 C588.52,381.31 589.26,381.71 589.92,382.21 C590.58,382.71 591.14,383.34 591.77,383.88 C592.41,384.42 593.11,384.89 593.72,385.45 C594.32,386.02 594.87,386.65 595.42,387.28 C595.97,387.90 596.43,388.62 597.01,389.21 C597.59,389.80 598.21,390.38 598.91,390.82 C599.60,391.27 600.44,391.48 601.17,391.87 C601.91,392.26 602.65,392.67 603.31,393.16 C603.97,393.66 604.56,394.27 605.15,394.85 C605.75,395.43 606.43,396.21 606.87,396.66 C607.32,397.11 607.65,397.41 607.80,397.56"/>
<path d="M62.60,461.98 C62.87,461.67 63.73,460.76 64.23,460.10 C64.73,459.43 65.12,458.68 65.60,458.00 C66.08,457.32 66.64,456.70 67.13,456.03 C67.62,455.35 68.10,454.67 68.56,453.98 C69.01,453.28 69.39,452.53 69.85,451.84 C70.32,451.15 70.84,450.49 71.33,449.82 C71.82,449.15 72.32,448.48 72.81,447.81 C73.30,447.14 73.78,446.46 74.29,445.80 C74.80,445.14 75.35,444.50 75.87,443.86 C76.39,443.21 76.92,442.56 77.44,441.91 C77.96,441.26 78.51,440.63 78.98,439.95 C79.46,439.27 79.84,438.52 80.31,437.83 C80.78,437.14 81.27,436.47 81.80,435.82 C82.32,435.18 82.93,434.60 83.45,433.95 C83.98,433.31 84.45,432.61 84.95,431.95 C85.46,431.29 85.97,430.64 86.50,429.99 C87.02,429.34 87.54,428.68 88.08,428.05 C88.63,427.42 89.22,426.84 89.76,426.20 C90.31,425.57 90.84,424.94 91.34,424.26 C91.83,423.59 92.22,422.85 92.71,422.18 C93.20,421.50 93.70,420.83 94.28,420.24 C94.86,419.64 95.50,419.08 96.18,418.62 C96.87,418.16 97.66,417.85 98.40,417.47 C99.14,417.10 99.93,416.79 100.63,416.36 C101.34,415.93 101.97,415.36 102.64,414.88 C103.32,414.39 103.98,413.87 104.69,413.44 C105.40,413.02 106.16,412.65 106.91,412.30 C107.67,411.95 108.46,411.67 109.23,411.35 C109.99,411.03 110.74,410.66 111.53,410.38 C112.32,410.11 113.14,409.95 113.94,409.72 C114.74,409.49 115.55,409.30 116.33,409.01 C117.11,408.73 117.86,408.35 118.62,408.01 C119.38,407.67 120.13,407.29 120.90,406.98 C121.67,406.67 122.46,406.40 123.26,406.17 C124.06,405.93 124.89,405.82 125.69,405.59 C126.49,405.36 127.28,405.07 128.06,404.78 C128.84,404.50 129.60,404.13 130.39,403.88 C131.18,403.62 132.01,403.48 132.81,403.24 C133.60,403.01 134.40,402.75 135.19,402.48 C135.97,402.21 136.78,401.97 137.54,401.64 C138.30,401.31 139.06,400.95 139.76,400.51 C140.46,400.07 141.07,399.47 141.75,398.99 C142.43,398.51 143.12,398.04 143.84,397.63 C144.56,397.21 145.34,396.90 146.07,396.50 C146.80,396.11 147.51,395.66 148.22,395.23 C148.93,394.80 149.66,394.38 150.34,393.90 C151.02,393.42 151.64,392.86 152.30,392.36 C152.97,391.85 153.64,391.37 154.31,390.86 C154.97,390.36 155.63,389.85 156.29,389.35 C156.96,388.84 157.61,388.31 158.29,387.84 C158.98,387.37 159.70,386.96 160.41,386.52 C161.12,386.08 161.88,385.72 162.54,385.22 C163.20,384.72 163.75,384.07 164.37,383.52 C164.99,382.96 165.59,382.37 166.28,381.91 C166.96,381.45 167.75,381.13 168.48,380.74 C169.22,380.34 169.94,379.93 170.67,379.53 C171.40,379.13 172.12,378.71 172.87,378.35 C173.63,378.00 174.43,377.76 175.19,377.41 C175.94,377.06 176.65,376.61 177.41,376.26 C178.17,375.92 178.96,375.66 179.73,375.33 C180.49,375.00 181.24,374.62 182.00,374.29 C182.76,373.96 183.54,373.65 184.31,373.36 C185.09,373.06 185.88,372.79 186.67,372.53 C187.47,372.27 188.26,372.04 189.06,371.79 C189.86,371.55 190.67,371.36 191.45,371.07 C192.23,370.79 192.95,370.31 193.75,370.09 C194.54,369.87 195.38,369.81 196.21,369.75 C197.04,369.69 197.88,369.82 198.71,369.73 C199.53,369.65 200.34,369.39 201.15,369.23 C201.97,369.07 202.78,368.83 203.60,368.75 C204.43,368.66 205.27,368.73 206.10,368.73 C206.93,368.74 207.77,368.77 208.60,368.77 C209.43,368.77 210.27,368.74 211.10,368.74 C211.93,368.75 212.77,368.76 213.60,368.79 C214.43,368.81 215.27,368.80 216.09,368.91 C216.92,369.02 217.73,369.23 218.53,369.46 C219.33,369.70 220.11,370.00 220.88,370.32 C221.64,370.64 222.40,371.01 223.14,371.39 C223.88,371.76 224.59,372.21 225.33,372.59 C226.07,372.96 226.83,373.32 227.60,373.63 C228.37,373.94 229.19,374.14 229.96,374.44 C230.74,374.74 231.52,375.04 232.26,375.42 C233.00,375.80 233.70,376.26 234.41,376.70 C235.11,377.15 235.76,377.69 236.47,378.11 C237.19,378.53 237.94,378.91 238.70,379.23 C239.47,379.55 240.29,379.73 241.07,380.02 C241.86,380.31 242.65,380.57 243.39,380.94 C244.13,381.32 244.78,381.87 245.50,382.28 C246.22,382.69 246.98,383.06 247.73,383.40 C248.49,383.75 249.30,383.99 250.05,384.35 C250.80,384.71 251.53,385.11 252.23,385.56 C252.92,386.02 253.55,386.58 254.23,387.06 C254.91,387.55 255.56,388.09 256.29,388.47 C257.03,388.84 257.86,389.03 258.64,389.32 C259.42,389.61 260.20,389.90 260.97,390.21 C261.74,390.53 262.48,390.93 263.27,391.20 C264.05,391.47 264.87,391.65 265.68,391.83 C266.50,392.01 267.32,392.16 268.14,392.27 C268.97,392.38 269.82,392.35 270.63,392.49 C271.45,392.62 272.26,392.83 273.05,393.09 C273.84,393.34 274.59,393.74 275.38,394.00 C276.17,394.26 276.99,394.43 277.79,394.65 C278.59,394.88 279.39,395.12 280.19,395.36 C280.99,395.60 281.79,395.84 282.58,396.10 C283.37,396.35 284.15,396.65 284.94,396.91 C285.73,397.17 286.53,397.40 287.33,397.64 C288.13,397.88 288.94,398.08 289.73,398.36 C290.51,398.63 291.25,399.03 292.04,399.30 C292.83,399.57 293.63,399.83 294.44,399.99 C295.25,400.15 296.10,400.16 296.92,400.25 C297.75,400.34 298.58,400.43 299.41,400.52 C300.24,400.60 301.09,400.58 301.90,400.75 C302.71,400.93 303.50,401.22 304.25,401.55 C305.01,401.89 305.68,402.44 306.44,402.76 C307.20,403.09 308.00,403.42 308.81,403.50 C309.62,403.58 310.46,403.31 311.29,403.24 C312.12,403.18 312.95,403.05 313.77,403.13 C314.59,403.21 315.38,403.57 316.20,403.73 C317.01,403.89 317.84,403.99 318.67,404.08 C319.50,404.18 320.33,404.23 321.16,404.30 C321.99,404.37 322.82,404.43 323.65,404.50 C324.48,404.56 325.31,404.63 326.14,404.70 C326.97,404.77 327.81,404.80 328.63,404.92 C329.46,405.04 330.26,405.29 331.08,405.44 C331.89,405.60 332.72,405.87 333.53,405.85 C334.35,405.83 335.15,405.47 335.96,405.31 C336.78,405.15 337.60,405.03 338.43,404.90 C339.25,404.77 340.07,404.65 340.90,404.54 C341.72,404.43 342.55,404.22 343.37,404.22 C344.20,404.23 345.03,404.56 345.85,404.55 C346.67,404.54 347.53,404.48 348.29,404.19 C349.04,403.90 349.66,403.25 350.36,402.81 C351.07,402.37 351.74,401.84 352.51,401.54 C353.27,401.25 354.16,401.27 354.95,401.05 C355.75,400.82 356.56,400.58 357.29,400.20 C358.03,399.82 358.65,399.22 359.35,398.78 C360.05,398.34 360.75,397.87 361.50,397.53 C362.26,397.20 363.17,397.16 363.88,396.76 C364.59,396.37 365.21,395.77 365.76,395.16 C366.32,394.55 366.73,393.80 367.19,393.11 C367.66,392.42 368.11,391.71 368.57,391.02 C369.04,390.33 369.50,389.64 370.00,388.97 C370.49,388.29 371.03,387.66 371.53,386.99 C372.03,386.32 372.51,385.65 372.99,384.97 C373.48,384.29 373.94,383.60 374.42,382.91 C374.89,382.23 375.39,381.56 375.85,380.86 C376.31,380.17 376.76,379.47 377.20,378.76 C377.64,378.06 378.08,377.34 378.49,376.62 C378.89,375.89 379.29,375.16 379.65,374.40 C380.00,373.65 380.30,372.87 380.61,372.10 C380.92,371.33 381.15,370.51 381.51,369.77 C381.88,369.02 382.36,368.34 382.80,367.63 C383.23,366.92 383.73,366.25 384.12,365.52 C384.51,364.79 384.79,363.99 385.12,363.23 C385.46,362.47 385.77,361.70 386.13,360.94 C386.49,360.19 386.88,359.45 387.26,358.71 C387.64,357.97 388.09,357.26 388.43,356.51 C388.78,355.75 389.05,354.96 389.32,354.17 C389.59,353.38 389.82,352.58 390.07,351.79 C390.33,350.99 390.57,350.19 390.86,349.41 C391.14,348.63 391.49,347.87 391.79,347.09 C392.09,346.32 392.39,345.54 392.65,344.75 C392.91,343.96 393.08,343.13 393.36,342.35 C393.63,341.57 393.99,340.81 394.32,340.05 C394.65,339.28 395.01,338.53 395.32,337.76 C395.62,336.99 395.88,336.19 396.15,335.40 C396.43,334.62 396.71,333.83 396.97,333.04 C397.24,332.25 397.51,331.47 397.76,330.67 C398.00,329.87 398.22,329.07 398.45,328.27 C398.67,327.46 398.90,326.66 399.13,325.86 C399.37,325.06 399.61,324.26 399.85,323.47 C400.10,322.67 400.32,321.86 400.60,321.08 C400.89,320.30 401.27,319.56 401.57,318.78 C401.86,318.00 402.13,317.21 402.37,316.41 C402.61,315.61 402.79,314.80 402.99,313.99 C403.19,313.18 403.37,312.37 403.58,311.56 C403.79,310.75 404.03,309.96 404.27,309.16 C404.50,308.36 404.79,307.57 405.01,306.77 C405.23,305.97 405.37,305.14 405.59,304.34 C405.81,303.54 406.06,302.74 406.32,301.95 C406.58,301.16 406.90,300.39 407.12,299.59 C407.35,298.79 407.48,297.96 407.68,297.15 C407.88,296.34 408.10,295.54 408.33,294.74 C408.56,293.94 408.83,293.15 409.04,292.34 C409.25,291.54 409.41,290.72 409.59,289.90 C409.77,289.09 409.94,288.27 410.14,287.46 C410.34,286.66 410.57,285.85 410.78,285.05 C410.99,284.24 411.22,283.44 411.42,282.63 C411.62,281.82 411.80,281.01 412.00,280.20 C412.20,279.39 412.38,278.58 412.61,277.77 C412.83,276.97 413.09,276.18 413.33,275.38 C413.56,274.58 413.81,273.79 414.01,272.98 C414.21,272.17 414.34,271.34 414.53,270.53 C414.71,269.72 414.89,268.90 415.11,268.10 C415.34,267.30 415.62,266.52 415.86,265.72 C416.10,264.92 416.31,264.11 416.54,263.31 C416.76,262.51 416.98,261.70 417.21,260.90 C417.44,260.10 417.67,259.30 417.91,258.50 C418.15,257.70 418.42,256.91 418.64,256.11 C418.87,255.31 419.06,254.50 419.25,253.69 C419.45,252.88 419.61,252.06 419.83,251.25 C420.05,250.45 420.28,249.65 420.57,248.87 C420.85,248.09 421.25,247.35 421.54,246.57 C421.84,245.79 422.07,244.99 422.32,244.19 C422.57,243.40 422.80,242.60 423.06,241.80 C423.32,241.01 423.62,240.23 423.87,239.44 C424.12,238.65 424.33,237.84 424.55,237.04 C424.78,236.23 424.95,235.41 425.20,234.62 C425.46,233.83 425.81,233.07 426.09,232.28 C426.36,231.50 426.61,230.70 426.87,229.91 C427.14,229.12 427.43,228.34 427.68,227.54 C427.93,226.75 428.13,225.94 428.36,225.14 C428.58,224.34 428.75,223.51 429.02,222.73 C429.29,221.94 429.68,221.20 429.98,220.42 C430.28,219.65 430.57,218.86 430.82,218.07 C431.07,217.28 431.28,216.47 431.49,215.66 C431.71,214.86 431.89,214.04 432.11,213.24 C432.33,212.44 432.56,211.64 432.81,210.84 C433.05,210.04 433.32,209.25 433.57,208.46 C433.81,207.66 434.04,206.86 434.28,206.06 C434.51,205.26 434.73,204.46 434.98,203.66 C435.23,202.87 435.50,202.08 435.77,201.29 C436.04,200.50 436.29,199.71 436.58,198.92 C436.87,198.14 437.19,197.37 437.51,196.60 C437.82,195.83 438.14,195.06 438.47,194.29 C438.80,193.53 439.12,192.76 439.48,192.01 C439.84,191.26 440.14,190.45 440.63,189.79 C441.11,189.13 441.84,188.66 442.39,188.04 C442.94,187.42 443.42,186.73 443.93,186.07 C444.43,185.41 444.86,184.66 445.44,184.08 C446.02,183.50 446.69,182.92 447.43,182.59 C448.16,182.27 449.05,182.13 449.86,182.13 C450.67,182.13 451.51,182.37 452.31,182.58 C453.12,182.79 453.93,183.04 454.67,183.40 C455.41,183.77 456.12,184.24 456.75,184.78 C457.38,185.31 457.94,185.95 458.45,186.60 C458.97,187.25 459.42,187.96 459.87,188.66 C460.31,189.36 460.74,190.08 461.12,190.82 C461.49,191.57 461.82,192.34 462.10,193.12 C462.39,193.90 462.59,194.71 462.81,195.51 C463.04,196.32 463.23,197.13 463.45,197.93 C463.67,198.74 463.90,199.54 464.15,200.33 C464.39,201.13 464.67,201.92 464.93,202.71 C465.19,203.50 465.44,204.29 465.70,205.09 C465.96,205.88 466.23,206.67 466.50,207.45 C466.77,208.24 467.07,209.02 467.34,209.81 C467.60,210.60 467.86,211.39 468.10,212.19 C468.34,212.99 468.52,213.81 468.78,214.60 C469.04,215.39 469.36,216.16 469.66,216.93 C469.96,217.71 470.28,218.48 470.57,219.26 C470.85,220.04 471.11,220.84 471.38,221.62 C471.65,222.41 471.95,223.19 472.20,223.98 C472.46,224.78 472.64,225.60 472.89,226.39 C473.14,227.18 473.43,227.96 473.72,228.75 C474.00,229.53 474.31,230.30 474.58,231.09 C474.85,231.88 475.07,232.69 475.34,233.47 C475.60,234.26 475.88,235.05 476.18,235.83 C476.47,236.61 476.80,237.38 477.10,238.15 C477.39,238.93 477.69,239.71 477.96,240.50 C478.23,241.29 478.47,242.09 478.72,242.88 C478.98,243.67 479.25,244.46 479.50,245.26 C479.75,246.05 479.98,246.85 480.22,247.65 C480.46,248.45 480.67,249.26 480.92,250.05 C481.17,250.84 481.43,251.64 481.75,252.41 C482.06,253.18 482.44,253.92 482.81,254.67 C483.17,255.42 483.59,256.14 483.93,256.90 C484.27,257.66 484.56,258.45 484.83,259.23 C485.10,260.02 485.31,260.83 485.57,261.62 C485.83,262.41 486.10,263.20 486.40,263.98 C486.70,264.76 487.07,265.50 487.39,266.28 C487.71,267.05 488.01,267.82 488.30,268.61 C488.58,269.39 488.86,270.18 489.11,270.97 C489.37,271.76 489.59,272.56 489.85,273.36 C490.10,274.15 490.34,274.95 490.65,275.72 C490.96,276.50 491.37,277.23 491.70,277.99 C492.03,278.76 492.34,279.53 492.63,280.31 C492.93,281.09 493.18,281.88 493.48,282.66 C493.78,283.44 494.10,284.21 494.41,284.98 C494.72,285.76 495.04,286.53 495.35,287.30 C495.66,288.07 495.92,288.87 496.27,289.62 C496.63,290.37 497.12,291.05 497.50,291.79 C497.88,292.53 498.24,293.28 498.53,294.06 C498.82,294.84 498.98,295.67 499.22,296.46 C499.46,297.26 499.69,298.06 499.96,298.85 C500.24,299.64 500.58,300.40 500.86,301.19 C501.14,301.97 501.37,302.77 501.63,303.56 C501.89,304.35 502.15,305.15 502.44,305.93 C502.72,306.71 503.02,307.49 503.35,308.26 C503.69,309.02 504.07,309.76 504.44,310.50 C504.82,311.25 505.21,311.99 505.60,312.72 C505.99,313.46 506.40,314.18 506.79,314.92 C507.18,315.65 507.57,316.39 507.93,317.14 C508.28,317.90 508.59,318.67 508.94,319.43 C509.29,320.18 509.64,320.94 510.02,321.68 C510.41,322.42 510.82,323.15 511.23,323.87 C511.65,324.59 512.11,325.29 512.51,326.02 C512.90,326.75 513.23,327.52 513.62,328.26 C514.01,329.00 514.31,329.81 514.83,330.44 C515.34,331.08 516.11,331.50 516.70,332.09 C517.28,332.67 517.81,333.32 518.32,333.98 C518.83,334.63 519.29,335.33 519.75,336.03 C520.22,336.72 520.65,337.43 521.11,338.12 C521.58,338.81 522.01,339.53 522.56,340.16 C523.10,340.79 523.79,341.28 524.36,341.89 C524.94,342.49 525.49,343.11 525.99,343.77 C526.49,344.44 526.89,345.18 527.37,345.86 C527.85,346.54 528.31,347.25 528.88,347.85 C529.46,348.44 530.18,348.89 530.83,349.41 C531.48,349.93 532.16,350.42 532.78,350.97 C533.40,351.53 534.03,352.08 534.54,352.74 C535.04,353.39 535.39,354.17 535.80,354.89 C536.20,355.62 536.51,356.41 536.97,357.10 C537.43,357.78 537.97,358.43 538.56,359.01 C539.14,359.60 539.88,360.04 540.48,360.61 C541.09,361.17 541.61,361.84 542.19,362.43 C542.78,363.02 543.40,363.58 543.99,364.16 C544.59,364.75 545.15,365.36 545.77,365.93 C546.38,366.49 546.99,367.07 547.67,367.54 C548.35,368.02 549.17,368.29 549.84,368.77 C550.52,369.25 551.12,369.83 551.72,370.42 C552.31,371.00 552.83,371.66 553.40,372.27 C553.97,372.87 554.52,373.50 555.13,374.06 C555.74,374.63 556.39,375.16 557.06,375.66 C557.73,376.15 558.42,376.63 559.13,377.06 C559.84,377.49 560.60,377.85 561.32,378.25 C562.05,378.65 562.79,379.05 563.50,379.47 C564.22,379.90 564.90,380.38 565.62,380.80 C566.34,381.22 567.09,381.58 567.82,382.00 C568.54,382.41 569.26,382.83 569.96,383.29 C570.65,383.74 571.30,384.28 572.01,384.71 C572.72,385.15 573.46,385.53 574.20,385.91 C574.94,386.30 575.70,386.64 576.45,387.01 C577.19,387.38 577.97,387.70 578.68,388.14 C579.38,388.58 580.01,389.13 580.67,389.64 C581.34,390.14 581.96,390.71 582.65,391.17 C583.34,391.63 584.08,392.03 584.83,392.39 C585.57,392.75 586.39,392.99 587.14,393.35 C587.89,393.70 588.65,394.06 589.33,394.53 C590.01,395.00 590.60,395.61 591.22,396.16 C591.84,396.72 592.42,397.32 593.07,397.85 C593.71,398.37 594.38,398.88 595.09,399.32 C595.79,399.76 596.56,400.09 597.30,400.48 C598.03,400.87 598.75,401.31 599.50,401.67 C600.25,402.02 601.04,402.30 601.81,402.62 C602.58,402.93 603.40,403.15 604.12,403.55 C604.84,403.95 605.52,404.56 606.13,405.03 C606.75,405.49 607.52,406.13 607.80,406.35"/>
<path d="M62.60,459.29 C62.83,458.94 63.47,457.87 63.96,457.19 C64.45,456.52 64.99,455.89 65.52,455.24 C66.05,454.60 66.60,453.98 67.12,453.33 C67.64,452.68 68.13,452.00 68.64,451.34 C69.14,450.67 69.67,450.03 70.15,449.35 C70.63,448.67 71.06,447.95 71.51,447.25 C71.95,446.54 72.34,445.80 72.81,445.11 C73.28,444.43 73.78,443.76 74.31,443.12 C74.84,442.48 75.49,441.93 76.00,441.28 C76.51,440.62 76.89,439.87 77.36,439.19 C77.84,438.50 78.34,437.83 78.84,437.17 C79.34,436.51 79.86,435.85 80.38,435.20 C80.90,434.55 81.44,433.92 81.98,433.28 C82.53,432.65 83.11,432.05 83.63,431.40 C84.15,430.75 84.63,430.07 85.11,429.39 C85.58,428.70 85.99,427.97 86.48,427.30 C86.96,426.62 87.48,425.96 88.03,425.34 C88.58,424.72 89.22,424.17 89.78,423.55 C90.33,422.93 90.84,422.27 91.37,421.63 C91.90,420.98 92.38,420.29 92.96,419.70 C93.54,419.11 94.25,418.64 94.86,418.08 C95.47,417.52 96.05,416.92 96.64,416.32 C97.22,415.73 97.73,415.05 98.38,414.53 C99.02,414.02 99.76,413.61 100.51,413.25 C101.25,412.88 102.06,412.64 102.85,412.36 C103.63,412.09 104.42,411.81 105.23,411.61 C106.03,411.40 106.89,411.36 107.68,411.12 C108.47,410.88 109.25,410.56 109.97,410.16 C110.69,409.76 111.28,409.10 112.00,408.71 C112.73,408.32 113.53,408.07 114.32,407.80 C115.10,407.53 115.94,407.39 116.71,407.08 C117.48,406.77 118.18,406.30 118.93,405.93 C119.67,405.56 120.40,405.13 121.18,404.85 C121.95,404.57 122.79,404.44 123.60,404.23 C124.40,404.03 125.23,403.89 126.02,403.64 C126.82,403.40 127.59,403.06 128.36,402.75 C129.13,402.43 129.90,402.11 130.65,401.75 C131.41,401.40 132.13,400.99 132.89,400.64 C133.64,400.29 134.39,399.88 135.18,399.66 C135.98,399.45 136.85,399.51 137.66,399.35 C138.47,399.18 139.30,398.99 140.05,398.66 C140.81,398.33 141.54,397.89 142.19,397.38 C142.85,396.88 143.40,396.24 143.98,395.64 C144.56,395.04 145.04,394.33 145.67,393.80 C146.30,393.26 147.00,392.79 147.74,392.42 C148.47,392.05 149.33,391.91 150.09,391.58 C150.85,391.25 151.62,390.90 152.32,390.46 C153.03,390.02 153.67,389.49 154.31,388.95 C154.95,388.42 155.53,387.81 156.15,387.26 C156.77,386.70 157.38,386.14 158.04,385.62 C158.69,385.10 159.39,384.65 160.06,384.15 C160.73,383.65 161.39,383.15 162.05,382.63 C162.70,382.12 163.32,381.55 163.97,381.04 C164.63,380.53 165.32,380.06 166.00,379.58 C166.68,379.09 167.39,378.66 168.04,378.14 C168.70,377.63 169.27,377.00 169.92,376.49 C170.57,375.98 171.21,375.35 171.96,375.06 C172.71,374.78 173.61,374.94 174.42,374.78 C175.23,374.63 176.05,374.43 176.81,374.12 C177.58,373.81 178.26,373.29 179.00,372.90 C179.74,372.52 180.49,372.17 181.26,371.84 C182.02,371.51 182.81,371.23 183.58,370.92 C184.36,370.62 185.15,370.35 185.91,370.00 C186.66,369.66 187.38,369.22 188.12,368.84 C188.86,368.46 189.59,368.04 190.36,367.74 C191.14,367.45 191.96,367.28 192.77,367.08 C193.58,366.88 194.39,366.69 195.21,366.54 C196.03,366.38 196.85,366.23 197.68,366.14 C198.50,366.06 199.34,366.08 200.17,366.00 C201.00,365.92 201.83,365.83 202.65,365.69 C203.47,365.55 204.27,365.30 205.10,365.17 C205.92,365.04 206.75,365.00 207.58,364.93 C208.41,364.86 209.25,364.74 210.08,364.74 C210.90,364.75 211.75,364.80 212.55,364.98 C213.35,365.17 214.11,365.57 214.89,365.86 C215.67,366.15 216.45,366.46 217.23,366.73 C218.02,367.00 218.84,367.18 219.61,367.50 C220.38,367.81 221.10,368.25 221.85,368.61 C222.60,368.97 223.37,369.29 224.12,369.65 C224.87,370.01 225.62,370.38 226.35,370.78 C227.09,371.17 227.81,371.59 228.52,372.03 C229.23,372.46 229.90,372.96 230.61,373.39 C231.32,373.83 232.04,374.25 232.78,374.63 C233.52,375.01 234.29,375.33 235.05,375.68 C235.81,376.03 236.57,376.37 237.32,376.72 C238.07,377.08 238.80,377.51 239.57,377.82 C240.33,378.14 241.17,378.31 241.93,378.62 C242.70,378.93 243.47,379.28 244.17,379.71 C244.88,380.14 245.47,380.78 246.17,381.21 C246.88,381.63 247.66,381.94 248.42,382.27 C249.18,382.60 250.02,382.78 250.74,383.18 C251.45,383.58 252.04,384.23 252.73,384.69 C253.42,385.15 254.11,385.64 254.88,385.93 C255.65,386.21 256.54,386.17 257.33,386.40 C258.13,386.63 258.90,386.97 259.66,387.30 C260.42,387.64 261.15,388.05 261.90,388.42 C262.64,388.79 263.37,389.20 264.13,389.54 C264.89,389.89 265.66,390.20 266.44,390.49 C267.22,390.77 268.02,391.06 268.82,391.26 C269.63,391.45 270.46,391.58 271.28,391.69 C272.11,391.79 272.95,391.77 273.77,391.88 C274.60,391.99 275.42,392.16 276.23,392.34 C277.04,392.52 277.84,392.75 278.65,392.96 C279.46,393.17 280.27,393.35 281.07,393.58 C281.87,393.81 282.68,394.03 283.45,394.35 C284.21,394.67 284.92,395.13 285.66,395.50 C286.41,395.87 287.14,396.31 287.92,396.57 C288.71,396.82 289.55,396.94 290.37,397.03 C291.20,397.13 292.04,397.08 292.87,397.12 C293.70,397.17 294.54,397.17 295.36,397.31 C296.17,397.46 296.97,397.73 297.76,398.00 C298.54,398.27 299.28,398.70 300.07,398.95 C300.86,399.19 301.69,399.38 302.51,399.46 C303.33,399.54 304.18,399.41 305.01,399.43 C305.84,399.44 306.68,399.43 307.50,399.55 C308.32,399.67 309.13,399.91 309.93,400.14 C310.73,400.37 311.49,400.73 312.30,400.91 C313.11,401.10 313.95,401.13 314.77,401.27 C315.59,401.42 316.42,401.54 317.21,401.78 C318.00,402.02 318.73,402.50 319.52,402.73 C320.32,402.97 321.14,403.10 321.97,403.21 C322.79,403.32 323.64,403.25 324.46,403.39 C325.28,403.52 326.06,403.85 326.88,404.01 C327.69,404.17 328.52,404.30 329.34,404.37 C330.17,404.43 331.01,404.41 331.84,404.40 C332.68,404.40 333.51,404.38 334.34,404.36 C335.18,404.34 336.01,404.34 336.84,404.31 C337.68,404.28 338.51,404.24 339.34,404.19 C340.17,404.15 341.00,404.09 341.84,404.04 C342.67,403.98 343.50,403.95 344.33,403.87 C345.16,403.78 345.99,403.68 346.81,403.55 C347.63,403.41 348.45,403.26 349.26,403.06 C350.07,402.87 350.87,402.64 351.66,402.37 C352.45,402.10 353.19,401.68 353.98,401.44 C354.77,401.20 355.60,401.08 356.42,400.93 C357.24,400.77 358.09,400.74 358.88,400.51 C359.67,400.28 360.41,399.86 361.18,399.53 C361.94,399.20 362.73,398.90 363.46,398.52 C364.20,398.13 364.93,397.71 365.57,397.20 C366.22,396.69 366.75,396.02 367.35,395.44 C367.94,394.85 368.53,394.26 369.12,393.68 C369.72,393.10 370.35,392.55 370.92,391.94 C371.49,391.34 372.04,390.71 372.55,390.05 C373.05,389.39 373.49,388.67 373.95,387.98 C374.41,387.28 374.83,386.56 375.31,385.88 C375.79,385.20 376.32,384.56 376.85,383.91 C377.37,383.26 377.95,382.66 378.45,381.99 C378.95,381.33 379.40,380.63 379.85,379.92 C380.30,379.22 380.74,378.51 381.15,377.79 C381.57,377.07 381.97,376.34 382.35,375.59 C382.72,374.85 383.07,374.09 383.42,373.34 C383.78,372.58 384.07,371.80 384.48,371.07 C384.88,370.35 385.39,369.68 385.85,368.99 C386.31,368.29 386.81,367.62 387.23,366.91 C387.66,366.19 388.02,365.44 388.40,364.70 C388.78,363.96 389.15,363.21 389.51,362.46 C389.87,361.71 390.21,360.95 390.56,360.19 C390.91,359.43 391.28,358.68 391.60,357.92 C391.92,357.15 392.19,356.36 392.49,355.58 C392.80,354.81 393.09,354.02 393.44,353.27 C393.79,352.52 394.24,351.80 394.61,351.06 C394.98,350.31 395.32,349.55 395.67,348.80 C396.01,348.04 396.34,347.27 396.66,346.50 C396.99,345.73 397.29,344.96 397.61,344.19 C397.93,343.42 398.25,342.65 398.57,341.88 C398.89,341.11 399.22,340.35 399.52,339.57 C399.81,338.79 400.07,338.00 400.35,337.21 C400.62,336.42 400.87,335.63 401.16,334.84 C401.44,334.06 401.77,333.29 402.06,332.51 C402.36,331.74 402.65,330.96 402.93,330.17 C403.21,329.38 403.48,328.60 403.74,327.80 C403.99,327.01 404.22,326.21 404.47,325.41 C404.71,324.62 404.93,323.81 405.21,323.02 C405.48,322.24 405.83,321.48 406.10,320.69 C406.37,319.90 406.60,319.10 406.82,318.30 C407.04,317.49 407.20,316.68 407.42,315.87 C407.63,315.06 407.86,314.26 408.08,313.46 C408.31,312.66 408.54,311.86 408.75,311.05 C408.97,310.25 409.16,309.44 409.37,308.63 C409.59,307.82 409.82,307.03 410.04,306.22 C410.25,305.41 410.44,304.60 410.65,303.80 C410.87,302.99 411.10,302.19 411.31,301.39 C411.53,300.58 411.73,299.77 411.93,298.96 C412.13,298.15 412.30,297.34 412.52,296.53 C412.74,295.73 413.01,294.94 413.24,294.14 C413.47,293.34 413.70,292.54 413.91,291.73 C414.12,290.93 414.30,290.11 414.51,289.30 C414.72,288.50 414.94,287.69 415.17,286.89 C415.40,286.09 415.65,285.30 415.89,284.50 C416.13,283.70 416.37,282.90 416.61,282.11 C416.86,281.31 417.08,280.51 417.34,279.72 C417.60,278.92 417.89,278.14 418.19,277.36 C418.49,276.59 418.84,275.83 419.14,275.05 C419.43,274.27 419.69,273.48 419.96,272.69 C420.23,271.90 420.49,271.11 420.76,270.32 C421.03,269.53 421.28,268.74 421.58,267.96 C421.87,267.18 422.20,266.41 422.52,265.64 C422.84,264.88 423.18,264.12 423.50,263.34 C423.82,262.57 424.11,261.79 424.42,261.02 C424.74,260.25 425.07,259.49 425.38,258.71 C425.68,257.93 425.98,257.16 426.25,256.37 C426.52,255.58 426.74,254.78 426.99,253.98 C427.24,253.19 427.47,252.38 427.75,251.60 C428.03,250.82 428.32,250.03 428.69,249.29 C429.06,248.54 429.59,247.87 429.95,247.13 C430.31,246.38 430.58,245.59 430.85,244.80 C431.11,244.01 431.30,243.19 431.53,242.39 C431.76,241.59 431.93,240.76 432.23,239.99 C432.53,239.22 432.96,238.50 433.32,237.76 C433.69,237.01 434.12,236.30 434.44,235.53 C434.75,234.77 434.93,233.94 435.22,233.16 C435.52,232.38 435.87,231.62 436.21,230.86 C436.55,230.11 436.94,229.37 437.27,228.60 C437.60,227.84 437.89,227.06 438.21,226.28 C438.53,225.51 438.81,224.73 439.18,223.98 C439.54,223.23 439.96,222.51 440.39,221.80 C440.83,221.09 441.33,220.42 441.78,219.72 C442.23,219.02 442.66,218.30 443.11,217.60 C443.56,216.90 443.95,216.14 444.51,215.53 C445.06,214.92 445.74,214.40 446.43,213.96 C447.13,213.52 447.89,213.03 448.67,212.86 C449.45,212.70 450.37,212.71 451.12,212.97 C451.86,213.22 452.55,213.83 453.14,214.40 C453.73,214.97 454.15,215.72 454.64,216.39 C455.12,217.07 455.57,217.77 456.06,218.45 C456.55,219.12 457.05,219.79 457.57,220.44 C458.08,221.10 458.65,221.71 459.16,222.37 C459.67,223.02 460.21,223.67 460.63,224.38 C461.05,225.09 461.32,225.90 461.69,226.64 C462.06,227.39 462.43,228.14 462.84,228.86 C463.24,229.59 463.71,230.29 464.12,231.01 C464.54,231.73 464.93,232.47 465.33,233.19 C465.74,233.92 466.17,234.64 466.55,235.38 C466.92,236.12 467.27,236.88 467.60,237.65 C467.93,238.41 468.19,239.20 468.51,239.98 C468.82,240.75 469.10,241.54 469.47,242.28 C469.85,243.02 470.36,243.69 470.75,244.43 C471.14,245.16 471.51,245.91 471.80,246.69 C472.08,247.47 472.25,248.29 472.48,249.09 C472.71,249.89 472.91,250.70 473.17,251.49 C473.43,252.29 473.75,253.06 474.04,253.84 C474.33,254.62 474.62,255.40 474.91,256.18 C475.20,256.96 475.49,257.74 475.78,258.53 C476.07,259.31 476.38,260.08 476.66,260.87 C476.93,261.65 477.16,262.46 477.42,263.25 C477.67,264.04 477.92,264.84 478.20,265.62 C478.49,266.40 478.82,267.17 479.12,267.95 C479.42,268.72 479.71,269.51 480.02,270.28 C480.34,271.05 480.64,271.83 480.99,272.58 C481.35,273.33 481.81,274.04 482.17,274.79 C482.53,275.53 482.89,276.29 483.17,277.07 C483.45,277.85 483.62,278.67 483.85,279.47 C484.08,280.28 484.27,281.09 484.53,281.88 C484.79,282.67 485.10,283.45 485.42,284.22 C485.73,284.99 486.10,285.74 486.42,286.50 C486.74,287.27 487.03,288.06 487.35,288.83 C487.66,289.60 488.00,290.36 488.32,291.13 C488.65,291.90 488.98,292.66 489.30,293.43 C489.62,294.20 489.96,294.96 490.26,295.74 C490.55,296.52 490.84,297.30 491.09,298.10 C491.33,298.89 491.52,299.71 491.73,300.51 C491.95,301.32 492.15,302.13 492.37,302.93 C492.59,303.73 492.83,304.53 493.07,305.33 C493.31,306.13 493.55,306.93 493.82,307.71 C494.09,308.50 494.36,309.29 494.69,310.05 C495.03,310.82 495.42,311.56 495.82,312.29 C496.22,313.01 496.67,313.72 497.11,314.43 C497.55,315.14 498.03,315.82 498.46,316.53 C498.89,317.25 499.30,317.97 499.68,318.71 C500.07,319.45 500.40,320.21 500.76,320.97 C501.12,321.72 501.47,322.47 501.84,323.22 C502.21,323.97 502.55,324.73 502.97,325.45 C503.39,326.17 503.83,326.88 504.33,327.54 C504.84,328.19 505.53,328.72 506.00,329.39 C506.47,330.07 506.77,330.87 507.15,331.61 C507.53,332.35 507.89,333.10 508.28,333.84 C508.67,334.58 509.07,335.31 509.50,336.02 C509.93,336.74 510.36,337.45 510.85,338.13 C511.33,338.80 511.90,339.42 512.42,340.07 C512.95,340.71 513.49,341.34 514.01,342.00 C514.52,342.66 515.04,343.31 515.50,344.00 C515.97,344.69 516.39,345.42 516.78,346.15 C517.18,346.88 517.51,347.65 517.88,348.39 C518.26,349.14 518.64,349.88 519.03,350.61 C519.43,351.34 519.85,352.07 520.28,352.78 C520.71,353.49 521.17,354.19 521.61,354.89 C522.06,355.60 522.46,356.33 522.93,357.02 C523.41,357.70 523.92,358.35 524.45,358.99 C524.99,359.63 525.62,360.19 526.12,360.85 C526.62,361.51 527.02,362.25 527.47,362.95 C527.93,363.65 528.37,364.36 528.83,365.05 C529.30,365.74 529.76,366.43 530.26,367.10 C530.76,367.77 531.28,368.42 531.83,369.04 C532.39,369.66 533.02,370.21 533.60,370.81 C534.17,371.41 534.75,372.02 535.29,372.65 C535.84,373.28 536.30,373.98 536.86,374.59 C537.43,375.20 538.02,375.80 538.68,376.29 C539.35,376.79 540.14,377.11 540.83,377.57 C541.52,378.04 542.16,378.57 542.82,379.09 C543.47,379.61 544.09,380.17 544.75,380.67 C545.42,381.16 546.11,381.63 546.82,382.08 C547.52,382.53 548.26,382.92 548.97,383.34 C549.69,383.77 550.44,384.15 551.11,384.64 C551.78,385.13 552.36,385.74 552.98,386.30 C553.59,386.85 554.14,387.52 554.81,387.99 C555.48,388.47 556.29,388.74 557.01,389.16 C557.73,389.57 558.45,389.99 559.12,390.48 C559.78,390.98 560.34,391.62 561.02,392.10 C561.70,392.58 562.46,392.94 563.18,393.36 C563.90,393.78 564.60,394.23 565.34,394.61 C566.09,394.98 566.86,395.30 567.63,395.60 C568.41,395.90 569.22,396.12 570.01,396.38 C570.80,396.65 571.57,397.00 572.37,397.20 C573.18,397.40 574.03,397.41 574.84,397.58 C575.65,397.74 576.49,397.87 577.25,398.18 C578.01,398.50 578.67,399.05 579.39,399.48 C580.10,399.91 580.80,400.35 581.52,400.77 C582.24,401.19 583.01,401.53 583.71,401.98 C584.41,402.43 585.07,402.94 585.73,403.45 C586.39,403.96 586.99,404.55 587.65,405.05 C588.32,405.54 589.04,405.97 589.73,406.43 C590.43,406.89 591.12,407.35 591.81,407.81 C592.51,408.28 593.17,408.79 593.88,409.22 C594.59,409.65 595.35,410.01 596.09,410.39 C596.83,410.77 597.56,411.18 598.32,411.50 C599.09,411.82 599.93,411.97 600.69,412.31 C601.45,412.64 602.15,413.10 602.88,413.51 C603.60,413.93 604.33,414.34 605.02,414.80 C605.72,415.25 606.59,415.91 607.05,416.25 C607.52,416.59 607.68,416.74 607.80,416.83"/>
</g>
<!-- labels -->
<g>
<text x="11.2" y="22.6" font-size="34" font-weight="bold" fill="#000" stroke="#000" stroke-width="1.1" stroke-linejoin="round" textLength="20" lengthAdjust="spacingAndGlyphs">a</text>
<g font-size="26" stroke="#fdfdfd" stroke-width="0.45">
<text x="358.6 0 384.3 406.4" y="94.4">1 mM</text>
<text x="329.8 344.4 349.07 0 371.63 388.47" y="158.3">4.2 µM</text>
<text x="328.3 340.4 344.0 0 367.1 383.87" y="202">0.1 µM</text>
<text x="374.87" y="238.6">0</text>
</g>
<g font-size="30.5" text-anchor="middle">
<text x="102.9" y="534">420</text>
<text x="180.5" y="534">440</text>
<text x="258.1" y="534">460</text>
<text x="335.6" y="534">480</text>
<text x="413.3" y="534">500</text>
<text x="491.3" y="534">520</text>
<text x="569.3" y="534">540</text>
</g>
<text x="218.5" y="581" font-size="32" letter-spacing="-0.4" word-spacing="1.8" stroke="#fdfdfd" stroke-width="0.5">Wavelength (nm)</text>
<g font-size="32.3" stroke="#fdfdfd" stroke-width="0.5">
<text transform="translate(30.9,376) rotate(-90)" letter-spacing="-0.25">Emission</text>
<text transform="translate(30.9,235.6) rotate(-90)" letter-spacing="0.2">intensity</text>
</g>
</g>
</svg>
</body></html>
